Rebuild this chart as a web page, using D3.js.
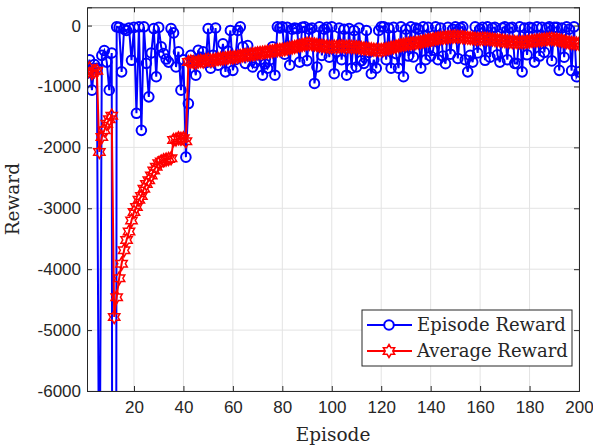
<!DOCTYPE html>
<html>
<head>
<meta charset="utf-8">
<script src="https://cdn.jsdelivr.net/npm/d3@7"></script>
<style>
  body { margin: 0; background: #fff; }
  .lbl { font-family: "DejaVu Serif", "Liberation Serif", serif; fill: #262626; }
</style>
</head>
<body>
<div id="chart"></div>
<script>
// Episode reward (blue) and 30-episode average reward (red)
var episodeReward = [
  -780, -560, -1060, -640, -700, -8750, -490, -410, -600, -1060,
  -450, -40900, -20, -30, -760, -60, -80, -40, -570, -30,
  -1440, -20, -1720, -20, -620, -1170, -450, -50, -840, -30,
  -350, -460, -550, -600, -50, -120, -680, -430, -1060, -560,
  -2160, -1280, -490, -580, -815, -405, -520, -430, -610, -50,
  -700, -490, -40, -650, -560, -300, -760, -420, -80, -735,
  -560, -80, -20, -350, -620, -330, -500, -680, -610, -450,
  -560, -815, -630, -700, -560, -350, -815, -20, -40, -20,
  -470, -30, -650, -60, -40, -50, -600, -30, -20, -575,
  -60, -40, -950, -680, -20, -490, -60, -30, -520, -20,
  -790, -430, -40, -560, -60, -815, -50, -700, -80, -680,
  -40, -575, -620, -80, -440, -790, -560, -700, -80, -20,
  -20, -560, -40, -700, -30, -460, -700, -20, -840, -60,
  -500, -20, -515, -40, -60, -700, -20, -560, -30, -500,
  -405, -20, -560, -40, -500, -625, -30, -470, -60, -20,
  -540, -40, -20, -560, -760, -490, -600, -20, -450, -60,
  -30, -570, -20, -520, -40, -30, -480, -600, -40, -20,
  -560, -40, -30, -620, -625, -20, -760, -40, -480, -30,
  -40, -600, -20, -500, -30, -440, -40, -20, -580, -30,
  -30, -735, -40, -520, -20, -60, -740, -20, -840, -760
];
var averageReward = [
  -780, -700, -780, -750, -740, -2075, -1830, -1720, -1610, -1540,
  -1480, -4785, -4460, -4150, -3910, -3690, -3520, -3380, -3200, -3060,
  -2980, -2860, -2800, -2680, -2600, -2540, -2460, -2380, -2320, -2260,
  -2230, -2210, -2200, -2190, -2180, -1880, -1870, -1850, -1860, -1850,
  -1900, -600, -590, -600, -610, -590, -580, -590, -570, -560,
  -575, -570, -560, -550, -545, -540, -535, -530, -520, -525,
  -515, -510, -500, -490, -485, -480, -475, -470, -465, -455,
  -450, -445, -440, -430, -425, -420, -410, -405, -400, -395,
  -390, -380, -370, -360, -350, -340, -330, -320, -310, -300,
  -300, -305, -310, -320, -330, -335, -340, -345, -350, -350,
  -345, -350, -345, -340, -345, -350, -345, -350, -350, -355,
  -360, -370, -375, -380, -385, -390, -395, -400, -400, -400,
  -395, -385, -375, -365, -355, -345, -335, -325, -315, -305,
  -300, -295, -290, -285, -280, -270, -260, -250, -240, -235,
  -225, -220, -210, -205, -200, -195, -190, -185, -185, -180,
  -185, -185, -190, -195, -200, -205, -210, -215, -220, -220,
  -215, -215, -220, -225, -230, -235, -240, -245, -250, -255,
  -260, -265, -270, -270, -275, -275, -270, -270, -265, -260,
  -255, -250, -245, -240, -235, -230, -225, -220, -220, -225,
  -230, -240, -250, -260, -270, -280, -285, -290, -295, -300
];
var xTicks = [20, 40, 60, 80, 100, 120, 140, 160, 180, 200];
var yTicks = [-6000, -5000, -4000, -3000, -2000, -1000, 0];
var seriesNames = ["Episode Reward", "Average Reward"];

var svgWidth = 593;
var svgHeight = 446;
var margin = { top: 7.3, right: 14, bottom: 55, left: 87 };
var width = svgWidth - margin.left - margin.right;
var height = svgHeight - margin.top - margin.bottom;

var svg = d3.select("#chart")
  .append("svg")
  .attr("width", svgWidth)
  .attr("height", svgHeight);

var g = svg.append("g")
  .attr("transform", `translate(${margin.left}, ${margin.top})`);

var x = d3.scaleLinear().domain([1, 200]).range([0, width]);
var y = d3.scaleLinear().domain([-6000, 300]).range([height, 0]);

// grid
g.append("g").selectAll("line").data(xTicks).enter().append("line")
  .attr("x1", d => x(d)).attr("x2", d => x(d))
  .attr("y1", 0).attr("y2", height)
  .attr("stroke", "#e3e3e3").attr("stroke-width", 1);
g.append("g").selectAll("line").data(yTicks).enter().append("line")
  .attr("x1", 0).attr("x2", width)
  .attr("y1", d => y(d)).attr("y2", d => y(d))
  .attr("stroke", "#e3e3e3").attr("stroke-width", 1);

// clip region
svg.append("defs").append("clipPath").attr("id", "clip")
  .append("rect").attr("x", 0).attr("y", 0).attr("width", width).attr("height", height);

var plot = g.append("g").attr("clip-path", "url(#clip)");

var epData = episodeReward.map((v, i) => ({ ep: i + 1, v: v }));
var avgData = averageReward.map((v, i) => ({ ep: i + 1, v: v }));

var line = d3.line().x(d => x(d.ep)).y(d => y(d.v));

// hexagram marker path
function hexagram(r) {
  var pts = [];
  for (var k = 0; k < 12; k++) {
    var rr = k % 2 === 0 ? r : r / Math.sqrt(3);
    var a = -Math.PI / 2 + k * Math.PI / 6;
    pts.push([rr * Math.cos(a), rr * Math.sin(a)]);
  }
  return "M" + pts.map(p => p[0].toFixed(2) + "," + p[1].toFixed(2)).join("L") + "Z";
}
var starPath = hexagram(6.5);

// episode reward
plot.append("path").datum(epData)
  .attr("d", line)
  .attr("fill", "none").attr("stroke", "#0000ff").attr("stroke-width", 2);
plot.append("g").selectAll("circle")
  .data(epData.filter(d => d.v >= -6000))
  .enter().append("circle")
  .attr("cx", d => x(d.ep)).attr("cy", d => y(d.v))
  .attr("r", 4.8)
  .attr("fill", "none").attr("stroke", "#0000ff").attr("stroke-width", 2);

// average reward
plot.append("path").datum(avgData)
  .attr("d", line)
  .attr("fill", "none").attr("stroke", "#ff0000").attr("stroke-width", 2);
plot.append("g").selectAll("path")
  .data(avgData)
  .enter().append("path")
  .attr("d", starPath)
  .attr("transform", d => `translate(${x(d.ep)},${y(d.v)})`)
  .attr("fill", "none").attr("stroke", "#ff0000").attr("stroke-width", 1.5);

// axes
var fmt = d => String(d);
var xAxis = d3.axisBottom(x).tickValues(xTicks).tickSize(-5).tickPadding(10).tickFormat(fmt);
var yAxis = d3.axisLeft(y).tickValues(yTicks).tickSize(-5).tickPadding(6).tickFormat(fmt);
var xg = g.append("g").attr("transform", `translate(0, ${height})`).call(xAxis);
var yg = g.append("g").call(yAxis);
var xg2 = g.append("g").call(d3.axisTop(x).tickValues(xTicks).tickSize(-5).tickFormat(""));
var yg2 = g.append("g").attr("transform", `translate(${width}, 0)`)
  .call(d3.axisRight(y).tickValues(yTicks).tickSize(-5).tickFormat(""));
[xg, yg, xg2, yg2].forEach(a => {
  a.attr("font-family", "'Liberation Sans', Arial, sans-serif").attr("font-size", 17);
  a.select(".domain").attr("stroke", "#262626").attr("stroke-width", 1);
  a.selectAll(".tick line").attr("stroke", "#262626");
  a.selectAll(".tick text").attr("fill", "#262626");
});

// axis labels
svg.append("text").attr("class", "lbl")
  .attr("x", margin.left + width / 2).attr("y", 441)
  .attr("text-anchor", "middle").attr("font-size", 18.5)
  .text("Episode");
svg.append("text").attr("class", "lbl")
  .attr("transform", `translate(19, ${margin.top + height / 2}) rotate(-90)`)
  .attr("text-anchor", "middle").attr("font-size", 18.5)
  .text("Reward");

// legend
var lg = svg.append("g").attr("transform", "translate(362, 310)");
lg.append("rect").attr("width", 210).attr("height", 56)
  .attr("fill", "#fff").attr("stroke", "#262626").attr("stroke-width", 1);
var items = [
  { name: seriesNames[0], color: "#0000ff", marker: "circle", y: 15 },
  { name: seriesNames[1], color: "#ff0000", marker: "star", y: 41 }
];
items.forEach(it => {
  lg.append("line").attr("x1", 5).attr("x2", 50).attr("y1", it.y).attr("y2", it.y)
    .attr("stroke", it.color).attr("stroke-width", 2);
  if (it.marker === "circle") {
    lg.append("circle").attr("cx", 27).attr("cy", it.y).attr("r", 4.8)
      .attr("fill", "#fff").attr("stroke", it.color).attr("stroke-width", 2);
  } else {
    lg.append("path").attr("d", starPath)
      .attr("transform", `translate(27,${it.y})`)
      .attr("fill", "#fff").attr("stroke", it.color).attr("stroke-width", 1.5);
  }
  lg.append("text").attr("class", "lbl")
    .attr("x", 55).attr("y", it.y + 6)
    .attr("font-size", 18)
    .text(it.name);
});
</script>
</body>
</html>
